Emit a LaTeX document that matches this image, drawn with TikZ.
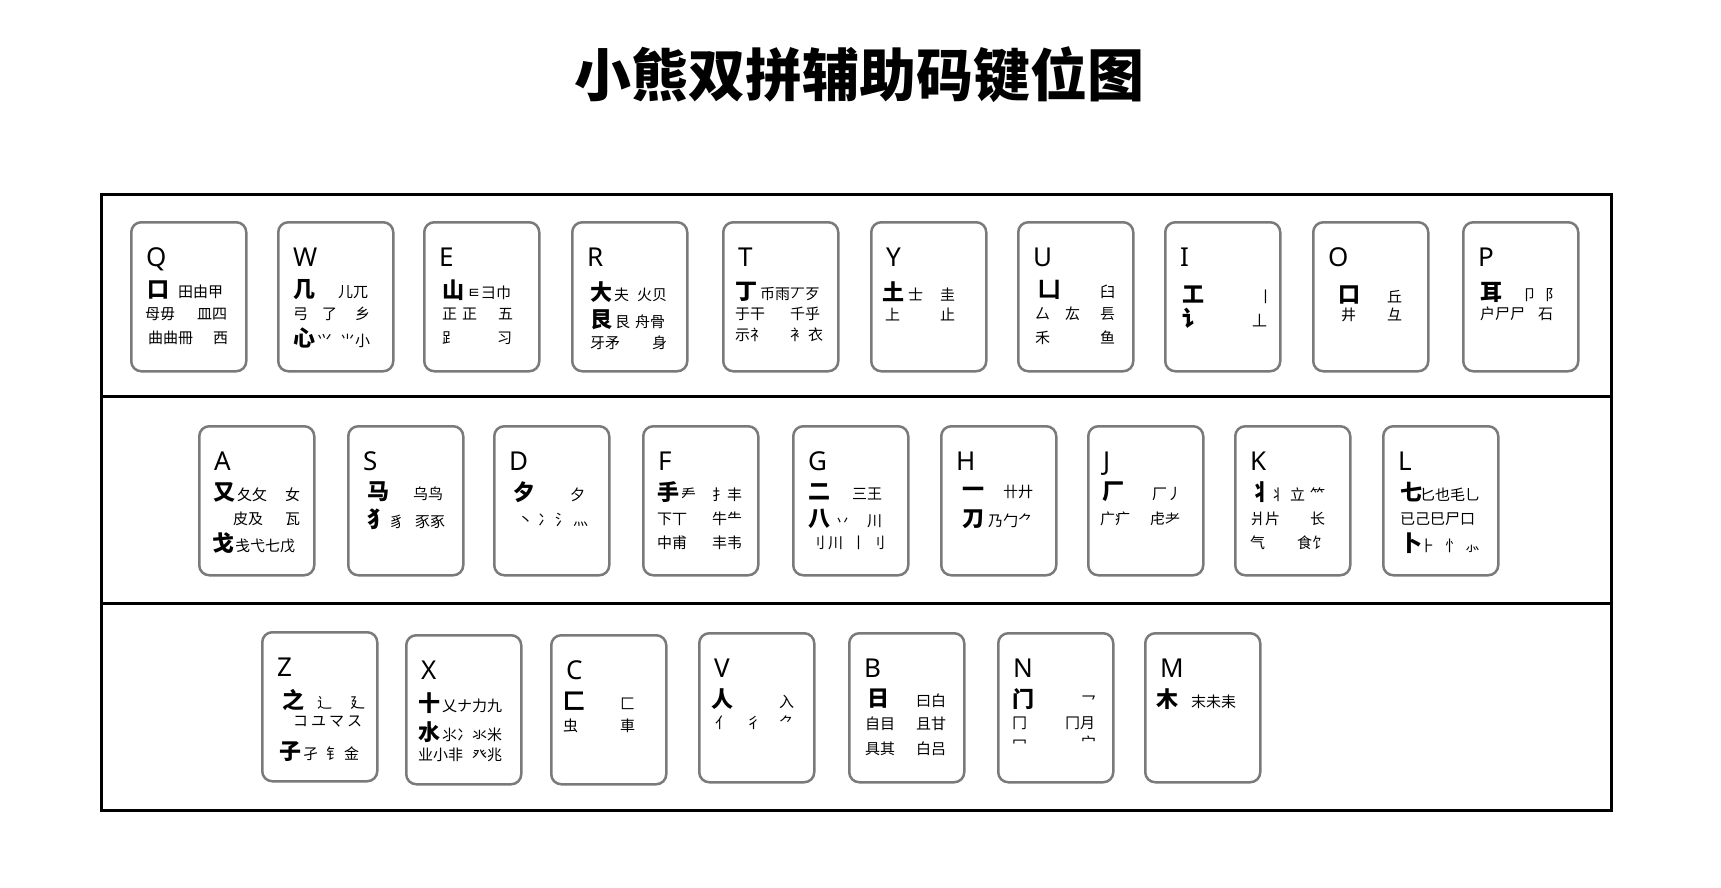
\documentclass[tikz,border=0pt]{standalone}
\usepackage{fontspec}
\setmainfont{Noto Sans}
\newfontfamily\cjk{Noto Sans CJK SC}
\definecolor{keyrim}{HTML}{7A7A7A}
\newcommand\zhu[1]{{\bfseries\fontsize{22}{22}\selectfont#1}}
\newcommand\kgap[1]{\hspace{#1pt}}
\tikzset{
  keycap/.style={draw=keyrim,line width=2.5pt,rounded corners=10pt,anchor=north west,
    minimum width=115pt,minimum height=149pt,inner sep=0pt},
  keyletter/.style={anchor=base west,inner sep=0pt,font=\fontsize{26}{26}\selectfont},
  keychars/.style={anchor=west,inner sep=0pt,font=\cjk\fontsize{15}{15}\selectfont},
  frame/.style={line width=3pt}
}
% key box + its letter
\newcommand\putkey[3]{%
  \node[keycap] (#1) at (#2,#3) {};
  \node[keyletter] (#1l) at ([xshift=16pt,yshift=-45pt]#1.north west) {#1};}
% one line of components: key, line no., x offset, y offset, text
\newcommand\keyline[5]{%
  \node[keychars] (#1#2) at ([xshift=#3pt,yshift=-#4pt]#1.north west) {#5};}

\begin{document}
\begin{tikzpicture}[x=1pt,y=-1pt]
\useasboundingbox (0,0) rectangle (1721,888);
\node[font=\cjk\bfseries\fontsize{57}{57}\selectfont] (title) at (859,75) {小熊双拼辅助码键位图};

% frame
\draw[frame] (101,194) rectangle (1611,810);
\draw[frame] (101,396) -- (1611,396);
\draw[frame] (101,603) -- (1611,603);

% top row
\putkey{Q}{130}{221}
\keyline{Q}{1}{17}{69}{\zhu{口}\kgap{9}田由甲}
\keyline{Q}{2}{15}{93}{母毋\kgap{22}皿四}
\keyline{Q}{3}{18}{117}{曲曲冊\kgap{20}西}
\putkey{W}{277}{221}
\keyline{W}{1}{16}{69}{\zhu{几}\kgap{23}儿兀}
\keyline{W}{2}{16}{93}{弓\kgap{14}了\kgap{18}乡}
\keyline{W}{3}{16}{117}{\zhu{心}\kgap{2}⺍\kgap{8}⺌小}
\putkey{E}{423}{221}
\keyline{E}{1}{19}{69}{\zhu{山}\kgap{3}ㅌ彐巾}
\keyline{E}{2}{19}{93}{正\kgap{5}正\kgap{21}五}
\keyline{E}{3}{19}{117}{⻊\kgap{40}习}
\putkey{R}{571}{221}
\keyline{R}{1}{19}{71}{\zhu{大}\kgap{2}夫\kgap{8}火贝}
\keyline{R}{2}{19}{99}{\zhu{艮}\kgap{3}艮\kgap{5}舟骨}
\keyline{R}{3}{19}{122}{牙矛\kgap{32}身}
\putkey{T}{722}{221}
\keyline{T}{1}{13}{71}{\zhu{丁}\kgap{3}币雨丆歹}
\keyline{T}{2}{13}{93}{于干\kgap{25}千乎}
\keyline{T}{3}{13}{114}{示礻\kgap{25}衤\kgap{3}衣}
\putkey{Y}{870}{221}
\keyline{Y}{1}{12}{71}{\zhu{土}\kgap{4}士\kgap{17}圭}
\keyline{Y}{2}{15}{93}{上\kgap{40}止}
\putkey{U}{1017}{221}
\keyline{U}{1}{21}{69}{\zhu{凵}\kgap{40}臼}
\keyline{U}{2}{18}{93}{厶\kgap{15}厷\kgap{20}镸}
\keyline{U}{3}{18}{117}{禾\kgap{50}鱼}
\putkey{I}{1164}{221}
\keyline{I}{1}{18}{74}{\zhu{工}\kgap{54}丨}
\keyline{I}{2}{18}{97}{\zhu{讠}\kgap{48}丄}
\putkey{O}{1312}{221}
\keyline{O}{1}{26}{74}{\zhu{口}\kgap{27}丘}
\keyline{O}{2}{29}{94}{井\kgap{31}彑}
\putkey{P}{1462}{221}
\keyline{P}{1}{18}{71}{\zhu{耳}\kgap{20}卩\kgap{8}阝}
\keyline{P}{2}{18}{93}{户尸尸\kgap{13}石}

% middle row
\putkey{A}{198}{425}
\keyline{A}{1}{15}{67}{\zhu{又}\kgap{2}夂攵\kgap{18}女}
\keyline{A}{2}{35}{94}{皮及\kgap{22}瓦}
\keyline{A}{3}{14}{118}{\zhu{戈}\kgap{1}戋弋七戊}
\putkey{S}{347}{425}
\keyline{S}{1}{20}{67}{\zhu{马}\kgap{24}乌鸟}
\keyline{S}{2}{20}{94}{\zhu{犭}\kgap{0}豸\kgap{11}豕豖}
\putkey{D}{493}{425}
\keyline{D}{1}{20}{67}{\zhu{夕}\kgap{35}夕}
\keyline{D}{2}{25}{95}{丶\kgap{5}冫\kgap{2}氵\kgap{3}灬}
\putkey{F}{642}{425}
\keyline{F}{1}{15}{67}{\zhu{手}\kgap{2}龵\kgap{16}扌丰}
\keyline{F}{2}{15}{94}{下丅\kgap{25}牛⺧}
\keyline{F}{3}{15}{118}{中甫\kgap{25}丰韦}
\putkey{G}{792}{425}
\keyline{G}{1}{16}{67}{\zhu{二}\kgap{22}三王}
\keyline{G}{2}{16}{94}{\zhu{八}\kgap{5}丷\kgap{17}川}
\keyline{G}{3}{18}{118}{刂\kgap{3}川\kgap{8}丨\kgap{4}刂}
\putkey{H}{940}{425}
\keyline{H}{1}{22}{67}{\zhu{一}\kgap{19}卄廾}
\keyline{H}{2}{22}{94}{\zhu{刀}\kgap{4}乃勹⺈}
\putkey{J}{1087}{425}
\keyline{J}{1}{15}{67}{\zhu{厂}\kgap{28}厂丿}
\keyline{J}{2}{13}{94}{广疒\kgap{20}虍耂}
\putkey{K}{1234}{425}
\keyline{K}{1}{16}{67}{\zhu{丬}\kgap{-2}丬\kgap{5}立\kgap{5}⺮}
\keyline{K}{2}{16}{94}{爿片\kgap{30}长}
\keyline{K}{3}{16}{118}{气\kgap{32}食饣}
\putkey{L}{1382}{425}
\keyline{L}{1}{18}{67}{\zhu{七}\kgap{-2}匕也毛乚}
\keyline{L}{2}{18}{94}{已己巳尸口}
\keyline{L}{3}{18}{118}{\zhu{卜}\kgap{-2}⺊\kgap{10}忄\kgap{5}⺗}

% bottom row
\putkey{Z}{261}{631}
\keyline{Z}{1}{21}{69}{\zhu{之}\kgap{13}辶\kgap{18}廴}
\keyline{Z}{2}{32}{91}{コ\kgap{3}ユ\kgap{3}マ\kgap{3}ス}
\keyline{Z}{3}{18}{121}{\zhu{子}\kgap{2}孑\kgap{8}钅\kgap{3}金}
\putkey{X}{405}{634}
\keyline{X}{1}{13}{69}{\zhu{十}\kgap{2}乂ナ力九}
\keyline{X}{2}{13}{98}{\zhu{水}\kgap{2}⺢冫氺米}
\keyline{X}{3}{13}{121}{业小非\kgap{9}癶兆}
\putkey{C}{550}{634}
\keyline{C}{1}{13}{67}{\zhu{匚}\kgap{35}⼕}
\keyline{C}{2}{13}{92}{虫\kgap{42}車}
\putkey{V}{698}{632}
\keyline{V}{1}{13}{67}{\zhu{人}\kgap{46}入}
\keyline{V}{2}{17}{91}{亻\kgap{16}彳\kgap{18}⺈}
\putkey{B}{848}{632}
\keyline{B}{1}{19}{67}{\zhu{日}\kgap{27}曰白}
\keyline{B}{2}{17}{92}{自目\kgap{21}且甘}
\keyline{B}{3}{17}{117}{具其\kgap{21}白吕}
\putkey{N}{997}{632}
\keyline{N}{1}{15}{67}{\zhu{门}\kgap{47}乛}
\keyline{N}{2}{15}{91}{冂\kgap{38}冂月}
\keyline{N}{3}{15}{110}{冖\kgap{54}宀}
\putkey{M}{1144}{632}
\keyline{M}{1}{12}{67}{\zhu{木}\kgap{13}末未耒}
\end{tikzpicture}
\end{document}
